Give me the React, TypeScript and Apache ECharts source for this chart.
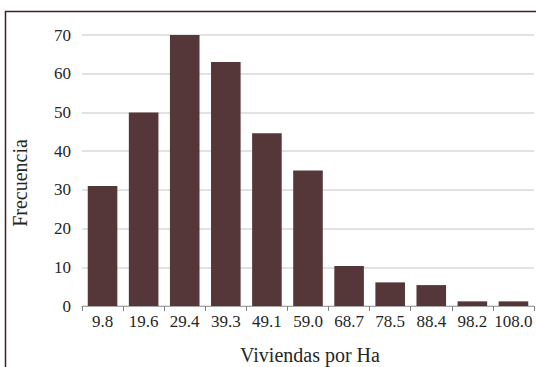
import React, { useEffect, useRef } from "react";
import * as echarts from "echarts";

const categories = ["9.8", "19.6", "29.4", "39.3", "49.1", "59.0", "68.7", "78.5", "88.4", "98.2", "108.0"];
const frequencies = [31, 50, 70, 63, 44.6, 35, 10.3, 6.1, 5.4, 1.2, 1.2];
const yTicks = { min: 0, max: 70, interval: 10 };
const xTitle = "Viviendas por Ha";
const yTitle = "Frecuencia";

const FONT = "'Liberation Serif', 'DejaVu Serif', serif";
const TEXT = "#262626";

export default function App() {
  const ref = useRef<HTMLDivElement>(null);
  useEffect(() => {
    if (!ref.current) return;
    const chart = echarts.init(ref.current, undefined, { renderer: "svg" });
    chart.setOption({
      animation: false,
      backgroundColor: "#ffffff",
      textStyle: { fontFamily: FONT },
      grid: { left: 82, right: 2, top: 35, bottom: 61, containLabel: false, outerBoundsMode: "none" },
      xAxis: {
        type: "category",
        data: categories,
        boundaryGap: true,
        axisLine: { lineStyle: { color: "#a6a6a6", width: 1 } },
        axisTick: { show: true, length: 5, alignWithLabel: false, lineStyle: { color: "#7f7f7f" } },
        axisLabel: { color: TEXT, fontSize: 17, fontFamily: FONT, margin: 7, interval: 0 },
      },
      yAxis: {
        type: "value",
        min: yTicks.min,
        max: yTicks.max,
        interval: yTicks.interval,
        axisLine: { show: false },
        axisTick: { show: false },
        axisLabel: { color: TEXT, fontSize: 17, fontFamily: FONT, margin: 11 },
        splitLine: { lineStyle: { color: "#d9d9d9", width: 1.5 } },
      },
      series: [
        {
          type: "bar",
          data: frequencies,
          barCategoryGap: "28%",
          itemStyle: { color: "#553739" },
        },
      ],
      graphic: [
        {
          type: "polyline",
          silent: true,
          shape: { points: [[5.5, 420], [5.5, 11.5], [640, 11.5]] },
          style: { fill: "none", stroke: "#3b2024", lineWidth: 1.5 },
          z: 100,
        },
        {
          type: "text",
          x: 20,
          y: 183,
          rotation: Math.PI / 2,
          style: {
            text: yTitle,
            fill: TEXT,
            font: "20px " + FONT,
            align: "center",
            verticalAlign: "middle",
          },
        },
        {
          type: "text",
          x: 310,
          y: 355,
          style: {
            text: xTitle,
            fill: TEXT,
            font: "20px " + FONT,
            align: "center",
            verticalAlign: "middle",
          },
        },
      ],
    });
    return () => chart.dispose();
  }, []);
  return <div ref={ref} style={{ width: 536, height: 367, position: "fixed", left: 0, top: 0 }} />;
}
